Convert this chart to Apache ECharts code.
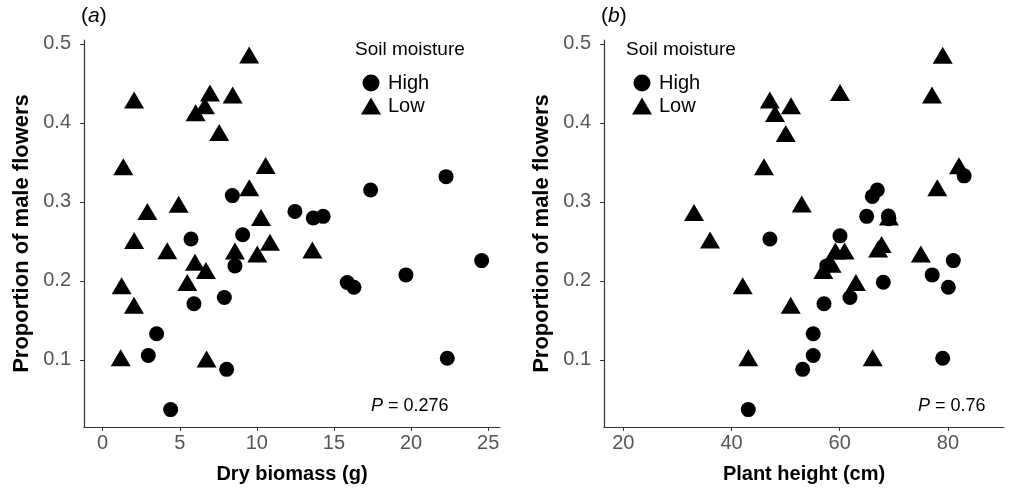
<!DOCTYPE html>
<html><head><meta charset="utf-8">
<script src="https://cdn.jsdelivr.net/npm/echarts@6/dist/echarts.min.js"></script>
<style>html,body{margin:0;padding:0;background:#fff}#c{width:1009px;height:492px}</style>
</head><body><div id="c"></div>
<script>
// Panel (a): dry biomass (g) vs proportion of male flowers
const biomassHigh = [[8.41,0.308],[12.47,0.288],[5.73,0.253],[9.08,0.2585],[8.58,0.219],[7.89,0.179],[5.92,0.171],[3.5,0.133],[2.96,0.1056],[8.04,0.088],[4.41,0.037],[22.27,0.332],[17.38,0.315],[13.66,0.2796],[14.3,0.2817],[24.58,0.2257],[19.67,0.2076],[15.86,0.198],[16.3,0.192],[22.35,0.102]];
const biomassLow = [[9.5,0.486],[2.04,0.429],[6.96,0.438],[8.43,0.4355],[6.63,0.4216],[6.03,0.413],[7.56,0.388],[1.34,0.3445],[10.57,0.346],[9.51,0.318],[2.9,0.288],[4.93,0.297],[10.27,0.2804],[2.04,0.251],[4.19,0.2383],[8.58,0.238],[10.85,0.249],[10.03,0.234],[5.99,0.2235],[6.7,0.213],[1.23,0.194],[5.49,0.198],[2.03,0.169],[1.17,0.1027],[6.74,0.101],[13.6,0.239]];
// Panel (b): plant height (cm) vs proportion of male flowers
const heightHigh = [[66.03,0.307],[69.0,0.282],[47.1,0.253],[60.05,0.257],[57.6,0.219],[61.9,0.179],[57.1,0.171],[55.1,0.133],[55.1,0.1056],[53.15,0.088],[43.1,0.037],[83.0,0.333],[66.95,0.315],[69.1,0.2786],[64.99,0.2817],[81.0,0.2257],[77.1,0.2076],[68.06,0.1983],[80.08,0.192],[79.04,0.102]];
const heightLow = [[79.04,0.4857],[47.08,0.429],[60.06,0.4384],[77.06,0.4355],[51.0,0.4216],[48.04,0.412],[50.02,0.3866],[46.0,0.3445],[82.05,0.3458],[78.04,0.318],[33.07,0.2867],[52.98,0.2973],[69.1,0.281],[36.03,0.2518],[59.2,0.238],[60.9,0.238],[67.75,0.246],[75.0,0.234],[58.5,0.221],[56.97,0.213],[42.07,0.194],[63.0,0.198],[50.94,0.169],[43.1,0.1027],[66.1,0.1027],[67.1,0.2405]];
const yTicks = [0.1,0.2,0.3,0.4,0.5];
const xTicksA = [0,5,10,15,20,25];
const xTicksB = [20,40,60,80];
const pValues = ['0.276','0.76'];
const panelLabels = ['a','b'];

const FONT = 'Liberation Sans, Arial, sans-serif';
const axisColor = '#333';
const labelColor = '#555';

function xAxis(idx, min, max, ticks, name){
  return {type:'value', gridIndex:idx, min:min, max:max, name:name, nameLocation:'middle', nameGap:37,
    nameTextStyle:{fontFamily:FONT,fontSize:20,fontWeight:'bold',color:'#000'},
    axisLine:{show:true,onZero:false,lineStyle:{color:axisColor,width:1.2}},
    axisTick:{show:true,length:4,customValues:ticks,lineStyle:{color:axisColor}},
    axisLabel:{customValues:ticks,fontFamily:FONT,fontSize:20,color:labelColor,margin:6},
    splitLine:{show:false}};
}
function yAxis(idx){
  return {type:'value', gridIndex:idx, min:0.015, max:0.505, name:'Proportion of male flowers', nameLocation:'middle', nameGap:51, nameRotate:90,
    nameTextStyle:{fontFamily:FONT,fontSize:22,fontWeight:'bold',color:'#000'},
    axisLine:{show:true,onZero:false,lineStyle:{color:axisColor,width:1.2}},
    axisTick:{show:true,length:4,customValues:yTicks,lineStyle:{color:axisColor}},
    axisLabel:{customValues:yTicks,fontFamily:FONT,fontSize:20,color:labelColor,margin:13,formatter:v=>String(v)},
    splitLine:{show:false}};
}
function legend(left){
  return {orient:'vertical', left:left, top:68, itemWidth:20, itemHeight:17, itemGap:3,
    data:[{name:'High',icon:'circle'},{name:'Low',icon:'triangle'}],
    textStyle:{fontFamily:FONT,fontSize:20,color:'#000',padding:[0,0,0,2]},
    selectedMode:false, itemStyle:{color:'#000'}};
}
function circles(idx,data){return {name:'High',type:'scatter',xAxisIndex:idx,yAxisIndex:idx,data:data,symbol:'circle',symbolSize:15,itemStyle:{color:'#000',opacity:1},emphasis:{disabled:true}};}
function triangles(idx,data){return {name:'Low',type:'scatter',xAxisIndex:idx,yAxisIndex:idx,data:data,symbol:'triangle',symbolSize:[20,17],itemStyle:{color:'#000',opacity:1},emphasis:{disabled:true}};}

function pText(left,val){
  return {type:'text',left:left,top:397,style:{text:'{i|P} = '+val,fontFamily:FONT,fontSize:18,fill:'#000',
    rich:{i:{fontStyle:'italic',fontFamily:FONT,fontSize:18,fill:'#000'}}}};
}
function panelText(left,l){
  return {type:'text',left:left,top:6,style:{text:'({i|'+l+'})',fontFamily:FONT,fontSize:21,fill:'#000',
    rich:{i:{fontStyle:'italic',fontFamily:FONT,fontSize:21,fill:'#000'}}}};
}
function legendTitle(left){
  return {type:'text',left:left,top:40,style:{text:'Soil moisture',fontFamily:FONT,fontSize:19,fill:'#000'}};
}

const chart = echarts.init(document.getElementById('c'),null,{renderer:'canvas'});
chart.setOption({
  animation:false,
  backgroundColor:'#fff',
  grid:[{left:84,top:40,width:416,height:387},{left:604,top:40,width:400,height:387}],
  xAxis:[xAxis(0,-1.21,25.77,xTicksA,'Dry biomass (g)'), xAxis(1,16.43,90.37,xTicksB,'Plant height (cm)')],
  yAxis:[yAxis(0),yAxis(1)],
  legend:[legend(356),legend(627)],
  series:[circles(0,biomassHigh),triangles(0,biomassLow),circles(1,heightHigh),triangles(1,heightLow)],
  graphic:[panelText(81,panelLabels[0]),panelText(601,panelLabels[1]),legendTitle(355),legendTitle(626),pText(371,pValues[0]),pText(918,pValues[1])]
});
</script></body></html>
